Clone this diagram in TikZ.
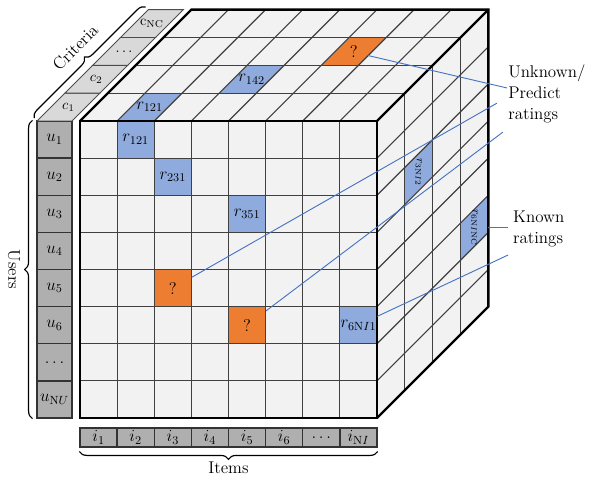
\documentclass[tikz,border=0pt]{standalone}
\usepackage{fix-cm}
\usepackage{xcolor}
\usepackage{amsmath}
\usepackage{tikz}
\usetikzlibrary{decorations.pathreplacing, calc}
\definecolor{facegray}{HTML}{F2F2F2}
\definecolor{stripgray}{HTML}{D9D9D9}
\definecolor{labelgray}{HTML}{AFAFAF}
\definecolor{knownblue}{HTML}{8FAADC}
\definecolor{unknownorange}{HTML}{ED7D31}
\definecolor{linkblue}{HTML}{4472C4}
\newcommand{\bigfont}{\fontsize{13}{16}\selectfont}
\newcommand{\midfont}{\fontsize{11}{13}\selectfont}

\begin{document}
\begin{tikzpicture}[
  gridline/.style={line width=0.9pt, draw=black!75},
  outline/.style={line width=1.8pt, line join=miter},
  cell/.style={rectangle, minimum size=1cm, inner sep=0pt, font=\bigfont},
  known/.style={cell, fill=knownblue},
  unknown/.style={cell, fill=unknownorange},
  usercell/.style={rectangle, draw=black!80, line width=1pt, fill=labelgray, minimum width=0.94cm, minimum height=1cm, inner sep=0pt, font=\bigfont},
  itemcell/.style={rectangle, draw=black!80, line width=1pt, fill=labelgray, minimum width=1cm, minimum height=0.51cm, inner sep=0pt, font=\bigfont},
  stripcell/.style={draw=black!70, line width=0.7pt, fill=stripgray},
  link/.style={draw=linkblue, line width=0.7pt},
  note/.style={align=left, inner sep=0pt, font=\bigfont},
  brc/.style={decorate, decoration={brace, amplitude=6pt}, line width=0.9pt},
]
\useasboundingbox (-2.155,-1.589) rectangle (13.818,11.259);

% front face
\fill[facegray] (0,0) rectangle (8,8);
\node[known] (f121) at (1.5,7.5) {$r_{121}$};
\node[known] (f231) at (2.5,6.5) {$r_{231}$};
\node[known] (f351) at (4.5,5.5) {$r_{351}$};
\node[unknown] (f53) at (2.5,3.5) {?};
\node[unknown] (f65) at (4.5,2.5) {?};
\node[known] (f6NI1) at (7.5,2.5) {$r_{6\mathrm{N}I1}$};
\draw[gridline] (0,0) grid (8,8);

% top face
\fill[facegray] (0,8) -- (8,8) -- (11,11) -- (3,11) -- cycle;
\fill[knownblue] (1,8) -- (2,8) -- (2.75,8.75) -- (1.75,8.75) -- cycle;
\fill[knownblue] (3.75,8.75) -- (4.75,8.75) -- (5.5,9.5) -- (4.5,9.5) -- cycle;
\fill[unknownorange] (6.5,9.5) -- (7.5,9.5) -- (8.25,10.25) -- (7.25,10.25) -- cycle;
\foreach \i in {1,...,7}
  \draw[gridline] (\i,8) -- ++(3,3);
\foreach \k in {1,2,3}
  \draw[gridline] (0.75*\k,8+0.75*\k) -- ++(8,0);
\node[font=\bigfont] (t121) at (1.875,8.375) {$r_{121}$};
\node[font=\bigfont] (t142) at (4.625,9.125) {$r_{142}$};
\node[font=\bigfont] (t63) at (7.375,9.875) {?};

% right face
\fill[facegray] (8,0) -- (11,3) -- (11,11) -- (8,8) -- cycle;
\fill[knownblue] (8.75,5.75) -- (9.5,6.5) -- (9.5,7.5) -- (8.75,6.75) -- cycle;
\fill[knownblue] (10.25,4.25) -- (11,5) -- (11,6) -- (10.25,5.25) -- cycle;
\foreach \j in {1,...,7}
  \draw[gridline] (8,\j) -- ++(3,3);
\foreach \k in {1,2,3}
  \draw[gridline] (8+0.75*\k,0.75*\k) -- ++(0,8);
\node[rotate=-90, font=\small] (s3NI2) at (9.125,6.625) {$r_{3\mathrm{N}I2}$};
\node[rotate=-90, font=\small] (s6NINC) at (10.625,5.125) {$r_{6\mathrm{N}I\mathrm{NC}}$};

\draw[outline] (0,0) rectangle (8,8);
\draw[outline] (0,8) -- (3,11) -- (11,11) -- (11,3) -- (8,0);
\draw[outline] (8,8) -- (11,11);

% users, criteria, items
\foreach \lab [count=\n] in {u_1,u_2,u_3,u_4,u_5,u_6,\ldots,u_{\mathrm{N}U}}
  \node[usercell] (u\n) at (-0.687,8.5-\n) {$\lab$};
\foreach \lab [count=\k from 0] in {c_1,c_2,\ldots,\mathrm{c}_{\mathrm{NC}}} {
  \draw[stripcell] (-1.157+0.75*\k,8+0.75*\k) -- ++(0.94,0) -- ++(0.75,0.75) -- ++(-0.94,0) -- cycle;
  \node[font=\midfont, inner sep=0pt] (c\k) at (-0.312+0.75*\k,8.375+0.75*\k) {$\lab$};
}
\foreach \lab [count=\n] in {i_1,i_2,i_3,i_4,i_5,i_6,\ldots,i_{\mathrm{N}I}}
  \node[itemcell] (i\n) at (\n-0.5,-0.525) {$\lab$};

\draw[brc] ([xshift=-3pt]u8.south west) -- ([xshift=-3pt]u1.north west);
\node[font=\bigfont, rotate=-90] (users) at (-1.78,4) {Users};
\draw[brc] ([yshift=-3pt]i8.south east) -- ([yshift=-3pt]i1.south west);
\node[font=\bigfont] (items) at (4,-1.33) {Items};
\draw[brc, decoration={raise=3pt}] (-1.157,8) -- (1.843,11);
\node[font=\bigfont, rotate=45, inner sep=0pt] (crit) at (-0.13,9.98) {Criteria};

% labels and links
\node[note, anchor=north west] (unk) at (11.53,9.51) {Unknown/\\Predict\\ratings};
\node[note, anchor=north west] (kno) at (11.66,5.58) {Known\\ratings};
\coordinate (tq) at ($(7.5,9.5)!0.35!(8.25,10.25)$);
\coordinate (sq) at (11,5.125);
\coordinate (unk1) at (11.50,8.89);
\coordinate (unk2) at (11.23,8.48);
\coordinate (unk3) at (11.39,7.70);
\coordinate (kn1) at (11.53,5.125);
\coordinate (kn2) at (11.53,4.39);
\draw[link] (tq) -- (unk1);
\draw[link] (f53) -- (unk2);
\draw[link] (f65) -- (unk3);
\draw[link] (sq) -- (kn1);
\draw[link] (f6NI1) -- (kn2);
\end{tikzpicture}
\end{document}
